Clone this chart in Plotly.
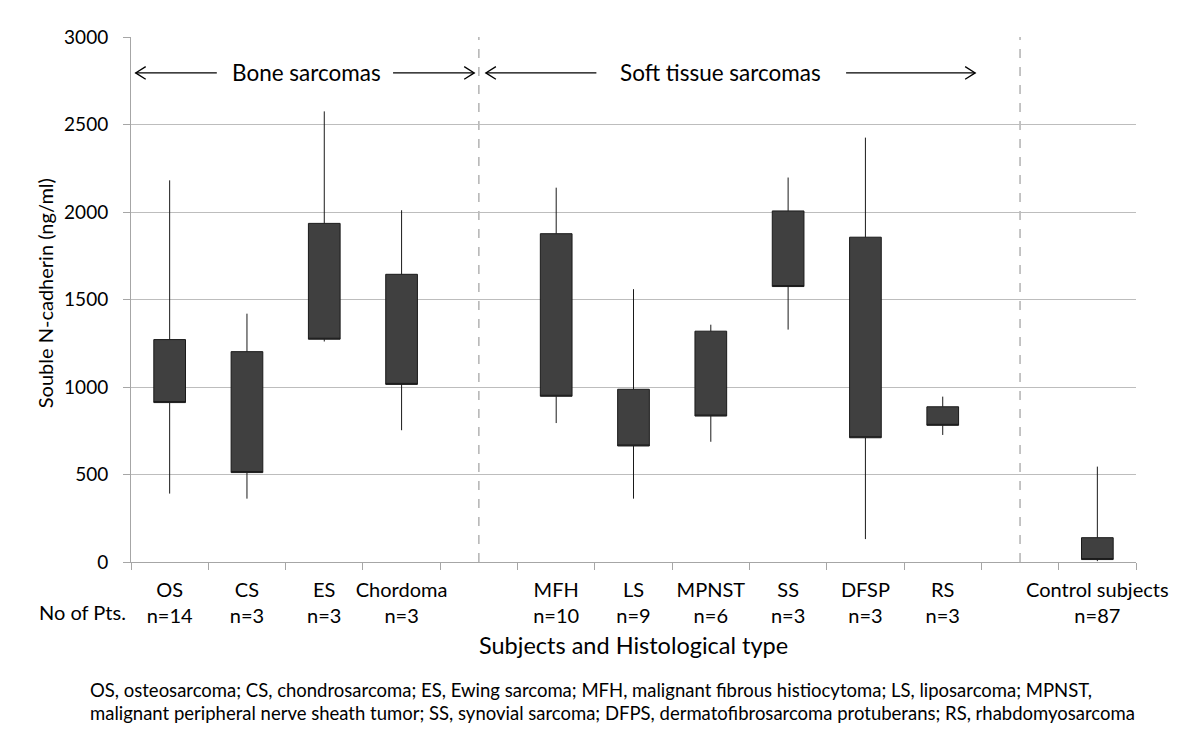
import plotly.graph_objects as go

# ---- data ----
categories = ["OS", "CS", "ES", "Chordoma", "", "MFH", "LS", "MPNST", "SS", "DFSP", "RS", "", "Control subjects"]
n_pts = ["n=14", "n=3", "n=3", "n=3", "", "n=10", "n=9", "n=6", "n=3", "n=3", "n=3", "", "n=87"]
high = [2181, 1419, 2575, 2010, None, 2139, 1559, 1356, 2197, 2425, 945, None, 545]
box_top = [1271, 1202, 1935, 1644, None, 1876, 987, 1319, 2006, 1856, 887, None, 139]
box_bottom = [911, 511, 1273, 1015, None, 947, 663, 834, 1574, 710, 781, None, 14]
low = [391, 362, 1260, 753, None, 794, 362, 687, 1328, 131, 726, None, 5]
y_ticks = [0, 500, 1000, 1500, 2000, 2500, 3000]

FONT = "Lato"

xs, q1s, q3s, los, his = [], [], [], [], []
for i in range(len(categories)):
    if high[i] is None:
        continue
    xs.append(i)
    q1s.append(box_bottom[i])
    q3s.append(box_top[i])
    los.append(low[i])
    his.append(high[i])

fig = go.Figure()
fig.add_trace(go.Box(
    x=xs, q1=q1s, median=q1s, q3=q3s, lowerfence=los, upperfence=his,
    width=0.41, whiskerwidth=0, boxpoints=False,
    fillcolor="#404040", line=dict(color="#1a1a1a", width=1),
    showlegend=False, hoverinfo="skip",
))

ticktext = [f"{c}<br>{n}" if c else "" for c, n in zip(categories, n_pts)]

fig.update_layout(
    width=1192, height=729,
    margin=dict(l=123, r=64, t=29, b=175),
    plot_bgcolor="white", paper_bgcolor="white",
    font=dict(family=FONT, size=20, color="#000000"),
    showlegend=False,
    xaxis=dict(
        range=[-0.5, len(categories) - 0.5],
        tickmode="array", tickvals=list(range(len(categories))), ticktext=ticktext,
        ticks="", showgrid=False, zeroline=False,
        showline=True, linecolor="#a6a6a6", linewidth=1,
        tickfont=dict(family=FONT, size=20),
        ticklabelstandoff=10,
        minor=dict(ticks="outside", tick0=0.5, dtick=1, ticklen=7, tickcolor="#a6a6a6", tickwidth=1, showgrid=False),
    ),
    yaxis=dict(
        range=[0, 3000], tickmode="array", tickvals=y_ticks,
        ticks="outside", ticklen=7, tickcolor="#a6a6a6",
        showgrid=True, gridcolor="#bdbdbd", gridwidth=1,
        zeroline=False, showline=True, linecolor="#a6a6a6", linewidth=1,
        tickfont=dict(family=FONT, size=19),
        ticklabelstandoff=11,
    ),
)

# dashed separators at the empty categories
for i, c in enumerate(categories):
    if c == "":
        fig.add_shape(type="line", xref="x", yref="y", x0=i, x1=i, y0=0, y1=3000,
                      line=dict(color="#a6a6a6", width=1.3, dash="dash"), layer="below")

# group arrows and labels
ya = 2795
dx_head = 0.13
dy_head = 36
def arrow(x_tail, x_tip):
    s = 1 if x_tip > x_tail else -1
    fig.add_shape(type="line", xref="x", yref="y", x0=x_tail, x1=x_tip, y0=ya, y1=ya,
                  line=dict(color="black", width=1.3))
    fig.add_shape(type="path", xref="x", yref="y",
                  path=f"M {x_tip - s*dx_head} {ya + dy_head} L {x_tip} {ya} L {x_tip - s*dx_head} {ya - dy_head}",
                  line=dict(color="black", width=1.3))

arrow(0.61, -0.44)
arrow(2.89, 3.94)
arrow(5.52, 4.09)
arrow(8.75, 10.42)
fig.add_annotation(x=1.77, y=ya, xref="x", yref="y", text="Bone sarcomas", showarrow=False,
                   font=dict(family=FONT, size=22.5), xanchor="center", yanchor="middle")
fig.add_annotation(x=7.12, y=ya, xref="x", yref="y", text="Soft tissue sarcomas", showarrow=False,
                   font=dict(family=FONT, size=22.5), xanchor="center", yanchor="middle")

# axis titles and notes
fig.add_annotation(x=-0.0856, y=0.512, xref="paper", yref="paper", text="Souble N-cadherin (ng/ml)",
                   textangle=-90, showarrow=False, font=dict(family=FONT, size=20),
                   xanchor="center", yanchor="middle")
fig.add_annotation(x=-0.003, y=-0.0952, xref="paper", yref="paper", text="No of Pts.",
                   showarrow=False, font=dict(family=FONT, size=20), xanchor="right", yanchor="middle")
fig.add_annotation(x=0.5, y=-0.158, xref="paper", yref="paper", text="Subjects and Histological type",
                   showarrow=False, font=dict(family=FONT, size=23.5), xanchor="center", yanchor="middle")
fig.add_annotation(x=-0.0428, y=-0.2438, xref="paper", yref="paper", align="left",
                   text="OS, osteosarcoma; CS, chondrosarcoma; ES, Ewing sarcoma; MFH, malignant fibrous histiocytoma; LS, liposarcoma; MPNST,",
                   showarrow=False, font=dict(family=FONT, size=18.5), xanchor="left", yanchor="middle")
fig.add_annotation(x=-0.0428, y=-0.2867, xref="paper", yref="paper", align="left",
                   text="malignant peripheral nerve sheath tumor; SS, synovial sarcoma; DFPS, dermatofibrosarcoma protuberans; RS, rhabdomyosarcoma",
                   showarrow=False, font=dict(family=FONT, size=18.5), xanchor="left", yanchor="middle")

fig.write_html("out.html")
